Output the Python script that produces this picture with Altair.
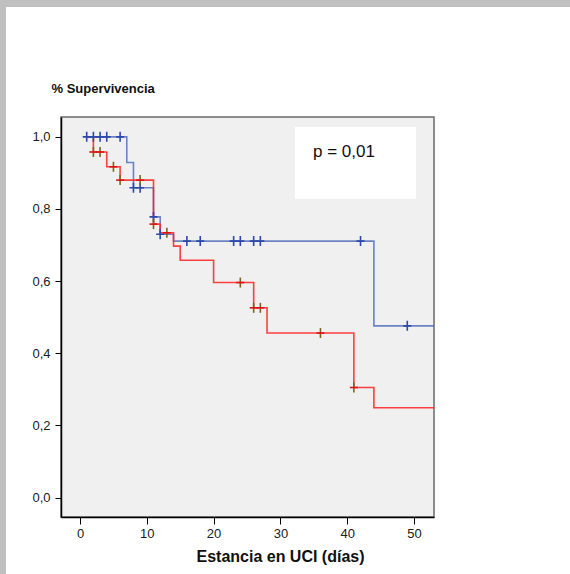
import altair as alt
import pandas as pd

# ---- data ----
blue_t = [1, 7, 8, 11, 12, 14, 44, 53]
blue_s = [1.0, 0.929, 0.859, 0.778, 0.730, 0.711, 0.476, 0.476]
red_t = [1, 2, 4, 6, 11, 12, 14, 15, 20, 26, 28, 41, 44, 53]
red_s = [1.0, 0.958, 0.917, 0.880, 0.758, 0.734, 0.697, 0.658, 0.596, 0.526, 0.456, 0.305, 0.249, 0.249]

blue_cens_t = [1, 2, 3, 4, 6, 8, 9, 11, 12, 16, 18, 23, 24, 26, 27, 42, 49]
blue_cens_s = [1.0, 1.0, 1.0, 1.0, 1.0, 0.859, 0.859, 0.778, 0.730, 0.711, 0.711, 0.711, 0.711, 0.711, 0.711, 0.711, 0.476]
red_cens_t = [2, 3, 5, 6, 9, 11, 13, 24, 26, 27, 36, 41]
red_cens_s = [0.958, 0.958, 0.917, 0.880, 0.880, 0.758, 0.734, 0.596, 0.526, 0.526, 0.456, 0.305]

x_ticks = [0, 10, 20, 30, 40, 50]
y_ticks = [0.0, 0.2, 0.4, 0.6, 0.8, 1.0]
p_text = "p = 0,01"
x_title = "Estancia en UCI (días)"
y_title = "% Supervivencia"

FONT = "Liberation Sans"

steps = pd.concat([
    pd.DataFrame({"t": blue_t, "s": blue_s, "g": "azul"}),
    pd.DataFrame({"t": red_t, "s": red_s, "g": "rojo"}),
])
bc = pd.DataFrame({"t": blue_cens_t, "s": blue_cens_s})
rc = pd.DataFrame({"t": red_cens_t, "s": red_cens_s})

xsc = alt.Scale(domain=[-2.85, 53], nice=False, zero=False)
ysc = alt.Scale(domain=[-0.054, 1.055], nice=False, zero=False)

xax = alt.Axis(values=x_ticks, title=x_title, grid=False, tickSize=7, labelPadding=3,
               labelFontSize=13, labelFont=FONT, labelColor="#202020",
               titleFont=FONT, titleFontSize=16, titleFontWeight="bold", titleColor="#101010",
               titleX=219, titleY=39, titleBaseline="middle", titleAnchor="middle",
               domainColor="#000000", domainWidth=1.5, tickColor="#000000")
yax = alt.Axis(values=y_ticks, title=y_title, grid=False, tickSize=6, labelPadding=5,
               labelFontSize=13, labelFont=FONT, labelColor="#202020",
               labelExpr="replace(format(datum.value, '.1f'), '.', ',')",
               titleFont=FONT, titleFontSize=13, titleFontWeight="bold", titleColor="#101010",
               titleAngle=0, titleX=-10, titleY=-29, titleAlign="left", titleBaseline="middle",
               domainColor="#000000", domainWidth=1.5, tickColor="#000000")

one = pd.DataFrame({"a": [0]})

left_band = alt.Chart(one).mark_rect(color="#c0c0c0").encode(
    x=alt.value(-61), x2=alt.value(-55), y=alt.value(-117), y2=alt.value(457))
top_band = alt.Chart(one).mark_rect(color="#c0c0c0").encode(
    x=alt.value(-61), x2=alt.value(509), y=alt.value(-117), y2=alt.value(-110))

box = alt.Chart(one).mark_rect(color="white").encode(
    x=alt.value(234), x2=alt.value(355), y=alt.value(10), y2=alt.value(82))
ptxt = alt.Chart(one).mark_text(text=p_text, font=FONT, fontSize=17, align="left",
                                baseline="middle", color="#101010").encode(
    x=alt.value(252), y=alt.value(35))

blue_line = alt.Chart(steps[steps.g == "azul"]).mark_line(
    interpolate="step-after", color="#4a66b8", strokeWidth=1.6, opacity=0.8, clip=True).encode(
    x=alt.X("t:Q", scale=xsc, axis=xax), y=alt.Y("s:Q", scale=ysc, axis=yax))
red_line = alt.Chart(steps[steps.g == "rojo"]).mark_line(
    interpolate="step-after", color="#ff2020", strokeWidth=1.6, opacity=0.85, clip=True).encode(
    x=alt.X("t:Q", scale=xsc), y=alt.Y("s:Q", scale=ysc))

plus = "M-1,0L1,0M0,-1.25L0,1.25"
hbar = "M-1,0L1,0"
vbar = "M0,-1.25L0,1.25"

blue_c = alt.Chart(bc).mark_point(shape=plus, filled=False, size=64, strokeWidth=1.6,
                                   color="#2c48a8", opacity=1).encode(
    x=alt.X("t:Q", scale=xsc), y=alt.Y("s:Q", scale=ysc))
red_ch = alt.Chart(rc).mark_point(shape=hbar, filled=False, size=64, strokeWidth=1.6,
                                  color="#e01010", opacity=1).encode(
    x=alt.X("t:Q", scale=xsc), y=alt.Y("s:Q", scale=ysc))
red_cv = alt.Chart(rc).mark_point(shape=vbar, filled=False, size=64, strokeWidth=1.6,
                                  color="#7a6420", opacity=1).encode(
    x=alt.X("t:Q", scale=xsc), y=alt.Y("s:Q", scale=ysc))

chart = alt.layer(left_band, top_band, box, ptxt, blue_line, red_line, blue_c, red_cv, red_ch).properties(
    width=373, height=400,
    autosize=alt.AutoSizeParams(type="none"),
    padding={"left": 61, "top": 117, "right": 136, "bottom": 57},
    background="white",
).configure_view(fill="#f0f0f0", stroke="#6a6a6a", strokeWidth=1.5)

chart.save("out.html", embed_options={"renderer": "svg", "actions": False})
